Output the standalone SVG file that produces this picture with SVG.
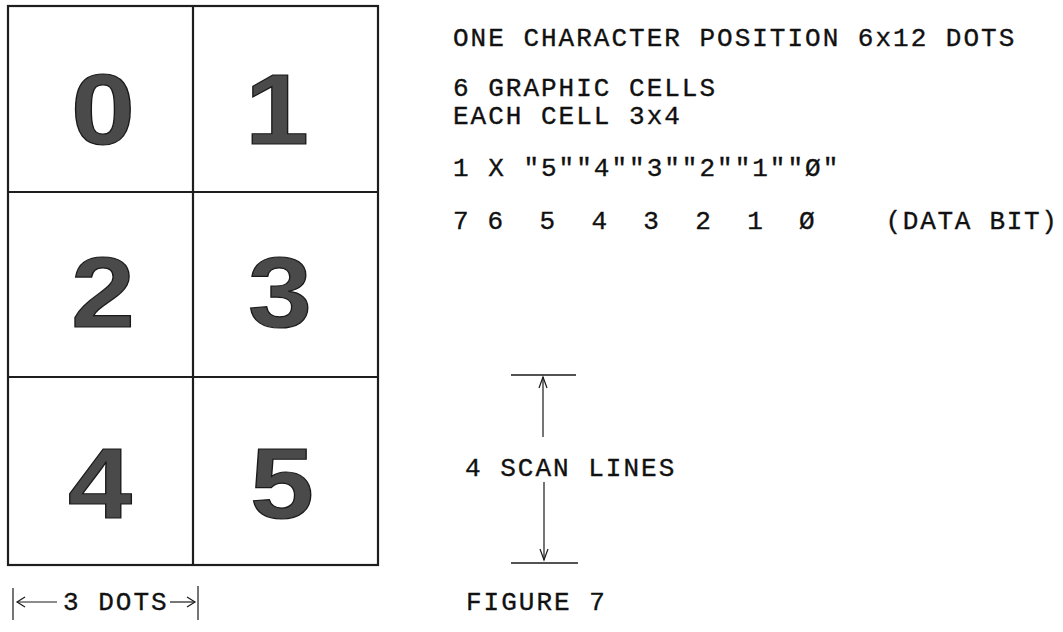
<svg xmlns="http://www.w3.org/2000/svg" width="1063" height="632" viewBox="0 0 1063 632">
  <style>
    .grid { stroke: #1e1e1e; stroke-width: 2.2; fill: none; }
    .digit { font-family: "Liberation Sans", Arial, sans-serif; font-weight: bold; font-size: 100px; fill: #4a4a4a; stroke: #1a1a1a; stroke-width: 1.2; text-anchor: middle; }
    .tw { font-family: "Liberation Mono", "DejaVu Sans Mono", monospace; font-size: 26px; letter-spacing: 2px; fill: #111111; stroke: #111111; stroke-width: 0.35; white-space: pre; }
    .tight { letter-spacing: 1.7px; }
    .rule { stroke: #1a1a1a; stroke-width: 1.6; fill: none; }
    .thin { stroke: #1a1a1a; stroke-width: 1.2; fill: none; }
  </style>
  <rect width="1063" height="632" fill="#ffffff"/>

  <!-- 2 x 3 character cell grid -->
  <g id="cell-grid">
    <rect class="grid" x="8" y="6" width="370" height="559"/>
    <line class="grid" x1="193" y1="6" x2="193" y2="565"/>
    <line class="grid" x1="8" y1="192" x2="378" y2="192"/>
    <line class="grid" x1="8" y1="377" x2="378" y2="377"/>
  </g>

  <g id="cell-0"><text class="digit" transform="translate(103,144) scale(1.15,1)">0</text></g>
  <g id="cell-1"><text class="digit" transform="translate(277,144) scale(1.15,1)">1</text></g>
  <g id="cell-2"><text class="digit" transform="translate(103,327) scale(1.15,1)">2</text></g>
  <g id="cell-3"><text class="digit" transform="translate(280,327) scale(1.15,1)">3</text></g>
  <g id="cell-4"><text class="digit" transform="translate(100,518) scale(1.15,1)">4</text></g>
  <g id="cell-5"><text class="digit" transform="translate(282,518) scale(1.15,1)">5</text></g>

  <!-- description text -->
  <g id="notes">
    <text class="tw" x="453" y="46">ONE CHARACTER POSITION 6x12 DOTS</text>
    <text class="tw" x="453" y="96">6 GRAPHIC CELLS</text>
    <text class="tw" x="453" y="124">EACH CELL 3x4</text>
    <text class="tw" x="453" y="176">1 X "5""4""3""2""1""Ø"</text>
    <text class="tw tight" x="453" y="229">7 6  5  4  3  2  1  Ø    (DATA BIT)</text>
  </g>

  <!-- scan line dimension -->
  <g id="scan-lines">
    <text class="tw" x="465" y="476">4 SCAN LINES</text>
  </g>
  <g id="connectors">
    <line class="rule" x1="511" y1="375" x2="576" y2="375"/>
    <line class="rule" x1="511" y1="563" x2="578" y2="563"/>
    <line class="thin" x1="543" y1="377" x2="543" y2="437"/>
    <polyline class="thin" points="539,388 543,377 547,388"/>
    <line class="thin" x1="544" y1="482" x2="544" y2="560"/>
    <polyline class="thin" points="540,549 544,560 548,549"/>

    <!-- 3 DOTS width marker -->
    <line class="thin" x1="13" y1="588" x2="13" y2="620"/>
    <line class="thin" x1="198" y1="586" x2="198" y2="620"/>
    <line class="thin" x1="17" y1="602" x2="57" y2="602"/>
    <polyline class="thin" points="25,597 17,602 25,607"/>
    <line class="thin" x1="170" y1="602" x2="195" y2="602"/>
    <polyline class="thin" points="187,597 195,602 187,607"/>
  </g>
  <g id="dots-label">
    <text class="tw" x="63" y="610">3 DOTS</text>
  </g>
  <g id="caption">
    <text class="tw" x="466" y="610">FIGURE 7</text>
  </g>
</svg>
